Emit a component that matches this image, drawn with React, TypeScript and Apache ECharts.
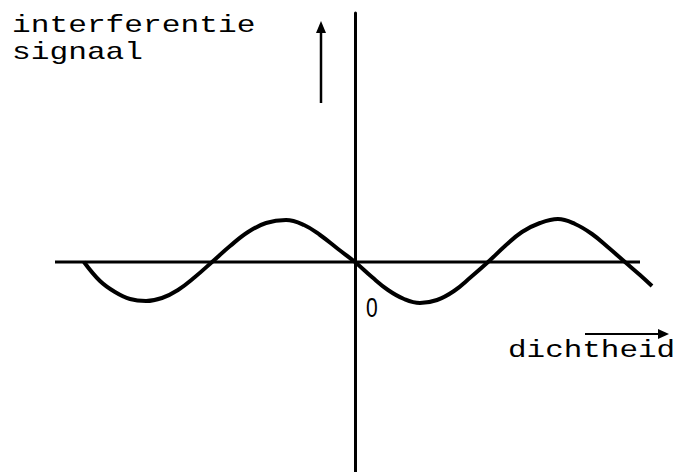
import React, { useEffect, useRef } from "react";
import * as echarts from "echarts";

// Density (x) positions along the curve, origin at the vertical axis
const densityX = [
  -18.07, -17.0, -16.0, -15.0, -13.93, -12.87, -11.8, -10.67, -9.53,
  -8.33, -7.13, -5.93, -4.6, -3.4, -2.33, -1.13, 0,
  1.13, 2.2, 3.27, 4.33, 5.47, 6.6, 7.73, 8.87,
  10.0, 11.13, 12.33, 13.53, 14.67, 15.8, 16.93, 18.0, 19.0, 19.8,
];
// Interference signal values
const signalY = [
  0, -1.9, -3.0, -3.7, -3.9, -3.6, -2.8, -1.5, 0,
  1.6, 3.0, 3.9, 4.2, 3.7, 2.7, 1.3, 0,
  -1.5, -2.8, -3.7, -4.1, -3.8, -2.9, -1.5, 0,
  1.6, 3.0, 3.9, 4.3, 3.8, 2.8, 1.4, 0, -1.3, -2.4,
];
// Horizontal axis extent (data units)
const axisX = [-20, 19];

const yTitle = ["interferentie", "signaal"];
const xTitle = "dichtheid";
const originLabel = "0";

const FONT = "'Liberation Mono', 'DejaVu Sans Mono', monospace";

export default function App() {
  const ref = useRef<HTMLDivElement>(null);
  useEffect(() => {
    if (!ref.current) return;
    const chart = echarts.init(ref.current, undefined, { renderer: "svg" });
    const curve = densityX.map((x, i) => [x, signalY[i]]);
    chart.setOption({
      animation: false,
      backgroundColor: "#ffffff",
      grid: { left: 55, right: 10, top: 13, bottom: 0 },
      xAxis: {
        type: "value",
        min: -20,
        max: 21,
        axisLine: { show: false },
        axisTick: { show: false },
        axisLabel: { show: false },
        splitLine: { show: false },
      },
      yAxis: {
        type: "value",
        min: -21,
        max: 24.9,
        axisLine: { show: true, onZero: true, lineStyle: { color: "#000", width: 3 } },
        axisTick: { show: false },
        axisLabel: { show: false },
        splitLine: { show: false },
      },
      series: [
        {
          type: "line",
          data: axisX.map((x) => [x, 0]),
          symbol: "none",
          lineStyle: { color: "#000", width: 3 },
          silent: true,
        },
        {
          type: "line",
          data: curve,
          smooth: 0.4,
          symbol: "none",
          clip: false,
          lineStyle: { color: "#000", width: 4 },
        },
      ],
      graphic: [
        {
          type: "text",
          x: 12,
          y: 14,
          scaleX: 1.3,
          style: {
            text: yTitle[0],
            font: `24px ${FONT}`,
            fill: "#000",
            verticalAlign: "top",
          },
        },
        {
          type: "text",
          x: 12,
          y: 41,
          scaleX: 1.3,
          style: {
            text: yTitle[1],
            font: `24px ${FONT}`,
            fill: "#000",
            verticalAlign: "top",
          },
        },
        {
          type: "text",
          x: 508,
          y: 338,
          scaleX: 1.29,
          style: {
            text: xTitle,
            font: `24px ${FONT}`,
            fill: "#000",
            verticalAlign: "top",
          },
        },
        {
          type: "text",
          x: 366,
          y: 294,
          scaleX: 0.78,
          style: {
            text: originLabel,
            font: "27px 'Liberation Sans', sans-serif",
            fill: "#000",
            verticalAlign: "top",
          },
        },
        {
          type: "line",
          shape: { x1: 321, y1: 103, x2: 321, y2: 28 },
          style: { stroke: "#000", lineWidth: 2.5 },
        },
        {
          type: "polygon",
          shape: { points: [[321, 21], [316, 33], [326, 33]] },
          style: { fill: "#000" },
        },
        {
          type: "line",
          shape: { x1: 585, y1: 334, x2: 660, y2: 334 },
          style: { stroke: "#000", lineWidth: 2 },
        },
        {
          type: "polygon",
          shape: { points: [[669, 334], [658, 329], [658, 339]] },
          style: { fill: "#000" },
        },
      ],
    });
    return () => chart.dispose();
  }, []);
  return (
    <div
      ref={ref}
      style={{ position: "fixed", left: 0, top: 0, width: 680, height: 472, background: "#fff" }}
    />
  );
}
